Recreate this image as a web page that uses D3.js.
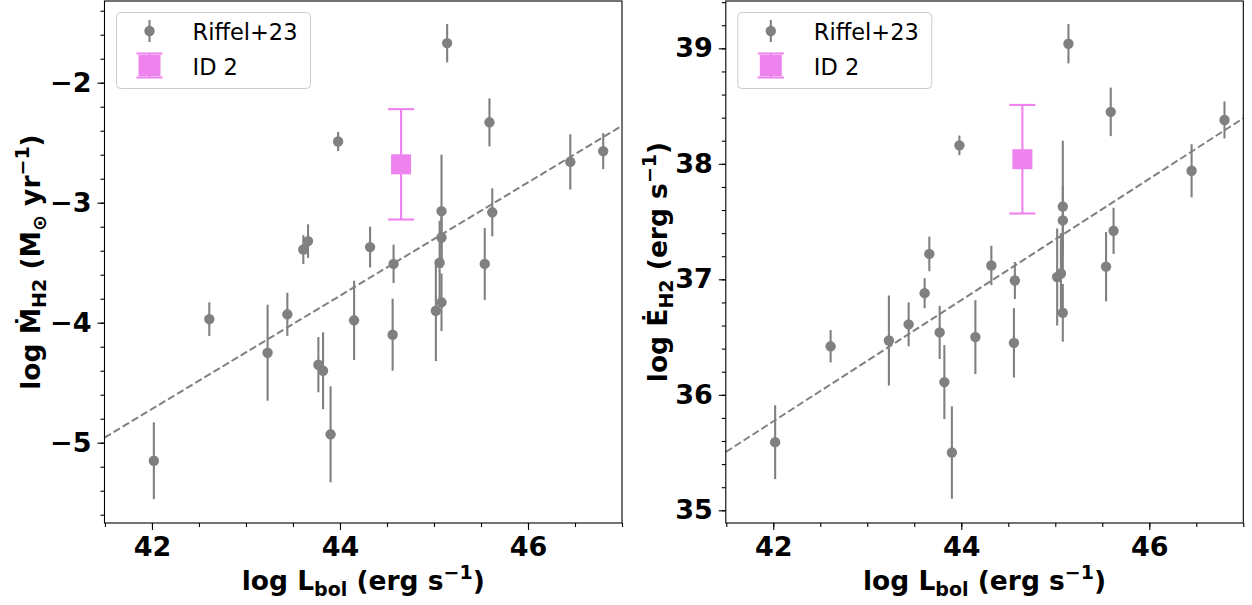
<!DOCTYPE html>
<html>
<head>
<meta charset="utf-8">
<script src="https://cdn.jsdelivr.net/npm/d3@7"></script>
<style>
    html, body { margin: 0; padding: 0; background: #fff; }
    svg { display: block; }
</style>
</head>
<body>
<svg id="chart" width="1252" height="605"></svg>
<script>

// Riffel+23 sample
var lbol     = [42.02, 42.61, 43.23, 43.44, 43.61, 43.66, 43.77, 43.82, 43.90, 43.98, 44.15, 44.32, 44.56,
                44.57, 45.02, 45.06, 45.08, 45.08, 45.08, 45.14, 45.54, 45.59, 45.62, 46.45, 46.80];

var mdot     = [-5.15, -3.97, -4.25, -3.93, -3.39, -3.32, -4.35, -4.40, -4.93, -2.49, -3.98, -3.37, -4.10,
                -3.51, -3.90, -3.50, -3.07, -3.29, -3.83, -1.67, -3.51, -2.33, -3.08, -2.66, -2.57];
var mdotErr  = [0.32, 0.14, 0.40, 0.18, 0.12, 0.14, 0.23, 0.32, 0.40, 0.08, 0.33, 0.17, 0.30,
                0.16, 0.42, 0.35, 0.47, 0.25, 0.24, 0.16, 0.30, 0.20, 0.20, 0.23, 0.15];

var edot     = [35.59, 36.42, 36.47, 36.61, 36.88, 37.22, 36.54, 36.11, 35.50, 38.16, 36.50, 37.12, 36.45,
                36.99, 37.02, 37.05, 37.63, 37.51, 36.71, 39.04, 37.11, 38.45, 37.42, 37.94, 38.38];
var edotErr  = [0.32, 0.14, 0.39, 0.19, 0.13, 0.15, 0.23, 0.32, 0.40, 0.085, 0.32, 0.17, 0.30,
                0.16, 0.42, 0.35, 0.57, 0.30, 0.25, 0.17, 0.30, 0.21, 0.20, 0.23, 0.16];

// ID 2
var id2Lbol    = [44.65];
var id2Mdot    = [-2.68];
var id2MdotErr = [0.46];
var id2Edot    = [38.04];
var id2EdotErr = [0.47];

// linear fits: [slope, intercept]
var fitMdot = [0.472, -24.543];
var fitEdot = [0.525, 13.72];

var xMajor = [42, 44, 46];
var mdotMajor = [-5, -4, -3, -2];
var edotMajor = [35, 36, 37, 38, 39];

var legendLabels = ["Riffel+23", "ID 2"];

var GREY = "#808080",
    PINK = "#ee82ee",
    FONT = "'DejaVu Sans', sans-serif",
    LABEL_SIZE = 26.5;

var svg = d3.select("#chart");

function range (a, b, step) {
    var out = [];
    for (var i = 0; a + i * step <= b + 1e-9; i++) out.push(+(a + i * step).toFixed(3));
    return out;
}

function styleAxis (g) {
    g.select(".domain").remove();
    g.selectAll("line").attr("stroke", "#000").attr("stroke-width", 1.1);
    g.selectAll("text")
        .attr("fill", "#000")
        .style("font-family", FONT)
        .style("font-weight", "bold")
        .style("font-size", "27px");
}

function richText (sel, parts, size) {
    var small = Math.round(size * 0.7);
    parts.forEach(function (p) {
        var t = sel.append("tspan").text(p.t);
        if (p.sub) t.attr("dy", size * 0.22).style("font-size", small + "px");
        else if (p.sup) t.attr("dy", -size * 0.4).style("font-size", small + "px");
        if (p.back) t.attr("dy", p.back * size);
    });
}

function panel (opt) {

    var left = opt.left, top = 1, width = 517.5, height = 522;

    var x = d3.scaleLinear().domain([41.495, 47.0]).range([left, left + width]);
    var y = d3.scaleLinear().domain(opt.yDomain).range([top + height, top]);

    var g = svg.append("g");

    // fit line
    var fx = x.domain();
    g.append("line")
        .attr("x1", x(fx[0])).attr("y1", y(opt.fit[0] * fx[0] + opt.fit[1]))
        .attr("x2", x(fx[1])).attr("y2", y(opt.fit[0] * fx[1] + opt.fit[1]))
        .attr("stroke", GREY)
        .attr("stroke-width", 2)
        .attr("stroke-dasharray", "7.4,3.2");

    // riffel error bars + points
    var pts = g.append("g").selectAll("g")
        .data(lbol.map(function (d, i) { return { x: d, y: opt.ys[i], e: opt.errs[i] }; }))
        .enter()
        .append("g");

    pts.append("line")
        .attr("x1", function (d) { return x(d.x); })
        .attr("x2", function (d) { return x(d.x); })
        .attr("y1", function (d) { return y(d.y - d.e); })
        .attr("y2", function (d) { return y(d.y + d.e); })
        .attr("stroke", GREY)
        .attr("stroke-width", 2.1);

    pts.append("circle")
        .attr("cx", function (d) { return x(d.x); })
        .attr("cy", function (d) { return y(d.y); })
        .attr("r", 5.2)
        .attr("fill", GREY);

    // ID 2
    var pk = g.append("g");
    var px = x(id2Lbol[0]), py = y(opt.id2[0]);
    var yHi = y(opt.id2[0] + opt.id2Err[0]), yLo = y(opt.id2[0] - opt.id2Err[0]);

    pk.append("line").attr("x1", px).attr("x2", px).attr("y1", yHi).attr("y2", yLo)
        .attr("stroke", PINK).attr("stroke-width", 2.1);
    [yHi, yLo].forEach(function (cy) {
        pk.append("line").attr("x1", px - 13).attr("x2", px + 13).attr("y1", cy).attr("y2", cy)
            .attr("stroke", PINK).attr("stroke-width", 2.1);
    });
    pk.append("rect").attr("x", px - 10).attr("y", py - 10).attr("width", 20).attr("height", 20)
        .attr("fill", PINK);

    // frame
    g.append("rect")
        .attr("x", left).attr("y", top).attr("width", width).attr("height", height)
        .attr("fill", "none").attr("stroke", "#000").attr("stroke-width", 1.1);

    // axes
    g.append("g")
        .attr("transform", "translate(0," + (top + height) + ")")
        .call(d3.axisBottom(x).tickValues(range(41.5, 47, 0.5)).tickSize(4).tickFormat(""))
        .call(styleAxis);

    g.append("g")
        .attr("transform", "translate(0," + (top + height) + ")")
        .call(d3.axisBottom(x).tickValues(xMajor).tickSize(7).tickPadding(7).tickFormat(d3.format("d")))
        .call(styleAxis);

    g.append("g")
        .attr("transform", "translate(" + left + ",0)")
        .call(d3.axisLeft(y).tickValues(opt.yMinor).tickSize(4).tickFormat(""))
        .call(styleAxis);

    g.append("g")
        .attr("transform", "translate(" + left + ",0)")
        .call(d3.axisLeft(y).tickValues(opt.yMajor).tickSize(7).tickPadding(6).tickFormat(d3.format("d")))
        .call(styleAxis);

    // labels
    var xl = g.append("text")
        .attr("x", left + width / 2)
        .attr("y", 590)
        .attr("text-anchor", "middle")
        .style("font-family", FONT).style("font-weight", "bold").style("font-size", LABEL_SIZE + "px");
    richText(xl, [
        { t: "log L" }, { t: "bol", sub: true }, { t: " (erg s", back: -0.22 },
        { t: "−1", sup: true }, { t: ")", back: 0.4 }
    ], LABEL_SIZE);

    var yl = g.append("text")
        .attr("transform", "translate(" + opt.labelX + "," + (top + height / 2) + ") rotate(-90)")
        .attr("text-anchor", "middle")
        .style("font-family", FONT).style("font-weight", "bold").style("font-size", LABEL_SIZE + "px");
    richText(yl, opt.yLabel, LABEL_SIZE);

    // legend
    var lg = g.append("g").attr("transform", "translate(" + (left + 12) + ",12.5)");

    lg.append("rect")
        .attr("width", 194).attr("height", 76).attr("rx", 4)
        .attr("fill", "#fff").attr("fill-opacity", 0.8)
        .attr("stroke", "#cccccc").attr("stroke-width", 1);

    lg.append("line").attr("x1", 33).attr("x2", 33).attr("y1", 7.5).attr("y2", 29.5)
        .attr("stroke", GREY).attr("stroke-width", 2.1);
    lg.append("circle").attr("cx", 33).attr("cy", 18.5).attr("r", 5.2).attr("fill", GREY);

    lg.append("line").attr("x1", 33).attr("x2", 33).attr("y1", 41).attr("y2", 65)
        .attr("stroke", PINK).attr("stroke-width", 2.1);
    [41, 65].forEach(function (cy) {
        lg.append("line").attr("x1", 20).attr("x2", 46).attr("y1", cy).attr("y2", cy)
            .attr("stroke", PINK).attr("stroke-width", 2.1);
    });
    lg.append("rect").attr("x", 22).attr("y", 42.5).attr("width", 22).attr("height", 21).attr("fill", PINK);

    lg.selectAll("text.lab")
        .data(legendLabels)
        .enter()
        .append("text")
        .attr("class", "lab")
        .attr("x", 76)
        .attr("y", function (d, i) { return 27 + i * 35; })
        .style("font-family", FONT).style("font-size", "22.5px")
        .attr("fill", "#000")
        .text(function (d) { return d; });
}

panel({
    left: 104.5,
    labelX: 40,
    yDomain: [-5.669, -1.319],
    ys: mdot, errs: mdotErr,
    id2: id2Mdot, id2Err: id2MdotErr,
    fit: fitMdot,
    yMajor: mdotMajor,
    yMinor: range(-5.6, -1.4, 0.2),
    yLabel: [
        { t: "log M\u0307" }, { t: "H2", sub: true }, { t: " (M", back: -0.22 },
        { t: "⊙", sub: true }, { t: " yr", back: -0.22 },
        { t: "−1", sup: true }, { t: ")", back: 0.4 }
    ]
});

panel({
    left: 725.8,
    labelX: 667,
    yDomain: [34.89, 39.41],
    ys: edot, errs: edotErr,
    id2: id2Edot, id2Err: id2EdotErr,
    fit: fitEdot,
    yMajor: edotMajor,
    yMinor: range(35, 39.4, 0.2),
    yLabel: [
        { t: "log E\u0307" }, { t: "H2", sub: true }, { t: " (erg s", back: -0.22 },
        { t: "−1", sup: true }, { t: ")", back: 0.4 }
    ]
});

</script>
</body>
</html>
